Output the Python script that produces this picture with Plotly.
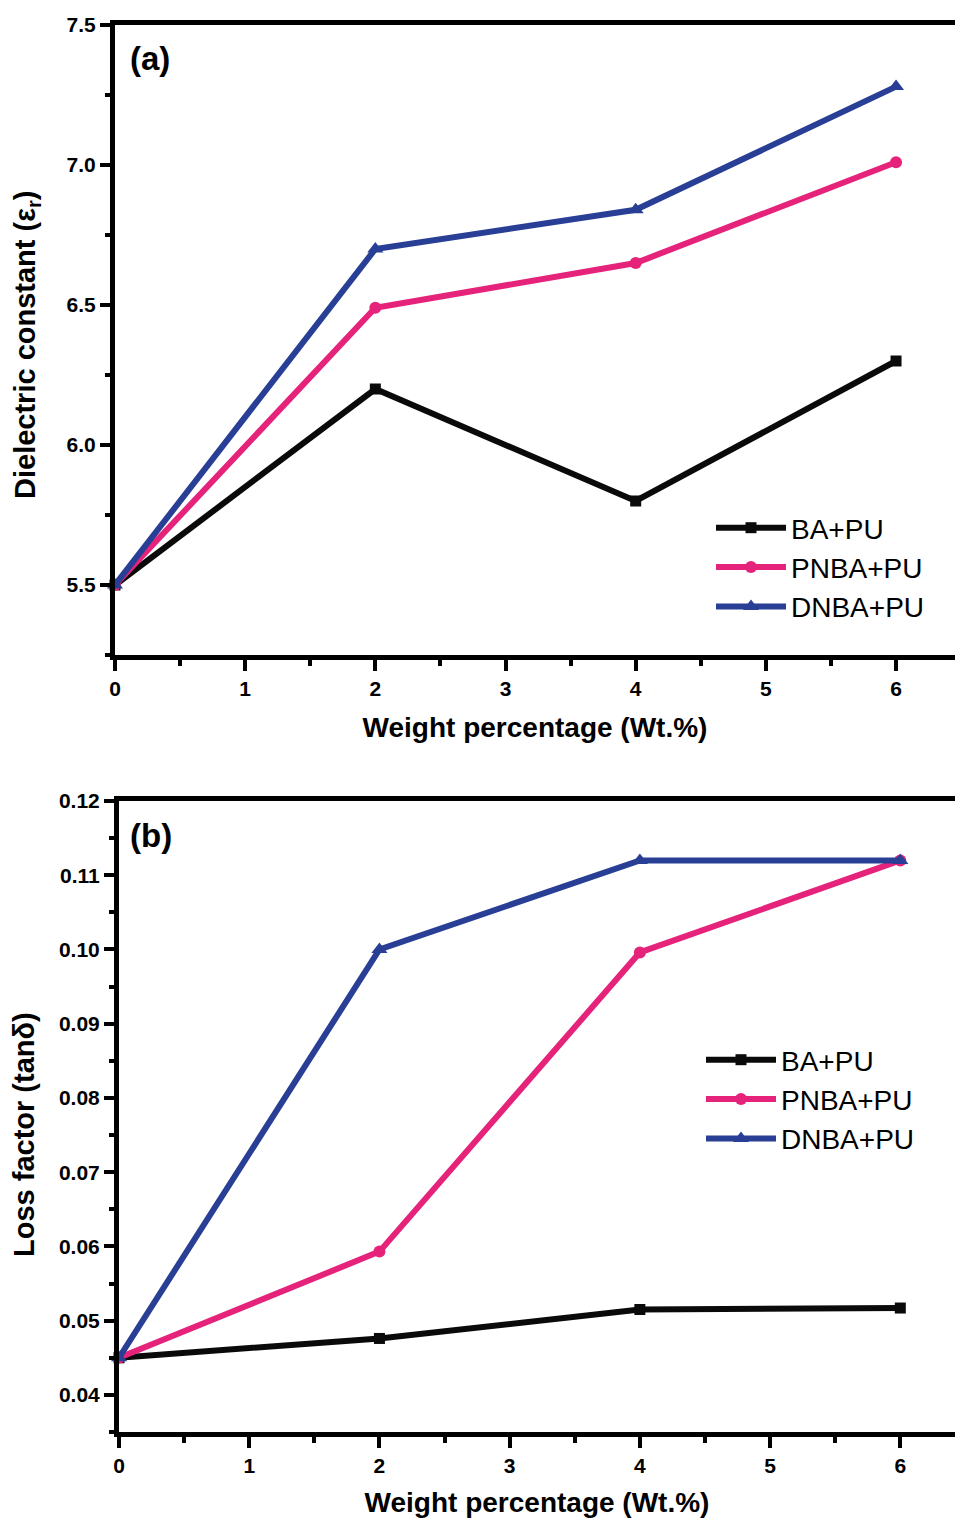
import plotly.graph_objects as go

wt = [0, 2, 4, 6]
series = ["BA+PU", "PNBA+PU", "DNBA+PU"]
eps_ba = [5.50, 6.20, 5.80, 6.30]
eps_pnba = [5.50, 6.49, 6.65, 7.01]
eps_dnba = [5.50, 6.70, 6.84, 7.28]
tan_ba = [0.0450, 0.0476, 0.0515, 0.0517]
tan_pnba = [0.0450, 0.0593, 0.0996, 0.1120]
tan_dnba = [0.0450, 0.1000, 0.1120, 0.1120]

colors = ["#0a0a0a", "#e6237a", "#283f95"]
symbols = ["square", "circle", "triangle-up"]
msizes = [11, 12, 14]

FONT = "Liberation Sans"
fig = go.Figure()

for i, (name, ys) in enumerate(zip(series, [eps_ba, eps_pnba, eps_dnba])):
    fig.add_trace(go.Scatter(x=wt, y=ys, name=name, mode="lines+markers",
                             line=dict(color=colors[i], width=6),
                             marker=dict(symbol=symbols[i], size=msizes[i], color=colors[i]),
                             xaxis="x", yaxis="y", legend="legend", cliponaxis=False))
for i, (name, ys) in enumerate(zip(series, [tan_ba, tan_pnba, tan_dnba])):
    fig.add_trace(go.Scatter(x=wt, y=ys, name=name, mode="lines+markers",
                             line=dict(color=colors[i], width=6),
                             marker=dict(symbol=symbols[i], size=msizes[i], color=colors[i]),
                             xaxis="x2", yaxis="y2", legend="legend2", cliponaxis=False))

H, W = 1518, 955
tickfont = dict(family=FONT, size=21, color="black", weight="bold")
titlefont = dict(family=FONT, size=28, color="black", weight="bold")
ytitlefont = dict(family=FONT, size=29, color="black", weight="bold")

def xax(domain, anchor, rng):
    return dict(domain=domain, anchor=anchor, range=rng, tickmode="linear", tick0=0, dtick=1,
                automargin=False,
                showgrid=False, zeroline=False, showline=True, linewidth=5, linecolor="black",
                mirror=True, ticks="outside", ticklen=11, tickwidth=4, tickcolor="black",
                minor=dict(ticks="outside", ticklen=6, tickwidth=4, tickcolor="black", dtick=0.5, tick0=0),
                tickfont=tickfont,
                title=dict(text="Weight percentage (Wt.%)", font=titlefont, standoff=20))

def yax(domain, anchor, rng, dtick, mdtick, fmt):
    return dict(domain=domain, anchor=anchor, range=rng, tickmode="linear", tick0=0, dtick=dtick,
                automargin=False,
                showgrid=False, zeroline=False, showline=True, linewidth=5, linecolor="black",
                mirror=False, ticks="outside", ticklen=10, tickwidth=4, tickcolor="black",
                minor=dict(ticks="outside", ticklen=5, tickwidth=4, tickcolor="black", dtick=mdtick, tick0=0),
                tickfont=tickfont, tickformat=fmt)

fig.update_layout(
    width=W, height=H,
    margin=dict(l=0, r=0, t=0, b=0, autoexpand=False),
    paper_bgcolor="white", plot_bgcolor="white",
    xaxis=xax([115 / W, 1.0], "y", [0, 6.453]),
    yaxis=yax([1 - 655 / H, 1 - 25 / H], "x", [5.25, 7.5], 0.5, 0.25, ".1f"),
    xaxis2=xax([119 / W, 1.0], "y2", [0, 6.42]),
    yaxis2=yax([1 - 1432 / H, 1 - 801 / H], "x2", [0.035, 0.12], 0.01, 0.005, ".2f"),
    legend=dict(x=711 / W, y=1 - 503 / H, xanchor="left", yanchor="top",
                font=dict(family=FONT, size=28, color="black"), bgcolor="rgba(0,0,0,0)",
                itemwidth=70, tracegroupgap=0),
    legend2=dict(x=701 / W, y=1 - 1035 / H, xanchor="left", yanchor="top",
                 font=dict(family=FONT, size=28, color="black"), bgcolor="rgba(0,0,0,0)",
                 itemwidth=70, tracegroupgap=0),
    annotations=[
        dict(text="(a)", x=128 / W, y=1 - 59 / H, xref="paper", yref="paper",
             xanchor="left", yanchor="middle", showarrow=False,
             font=dict(family=FONT, size=33, color="black", weight="bold")),
        dict(text="(b)", x=128 / W, y=1 - 835 / H, xref="paper", yref="paper",
             xanchor="left", yanchor="middle", showarrow=False,
             font=dict(family=FONT, size=33, color="black", weight="bold")),
        dict(text="Dielectric constant (ε<sub>r</sub>)", x=27 / W, y=1 - 345 / H,
             xref="paper", yref="paper", xanchor="center", yanchor="middle",
             textangle=-90, showarrow=False, font=ytitlefont),
        dict(text="Loss factor (tanδ)", x=24 / W, y=1 - 1135 / H,
             xref="paper", yref="paper", xanchor="center", yanchor="middle",
             textangle=-90, showarrow=False, font=ytitlefont),
    ],
)

fig.write_html("out.html")
